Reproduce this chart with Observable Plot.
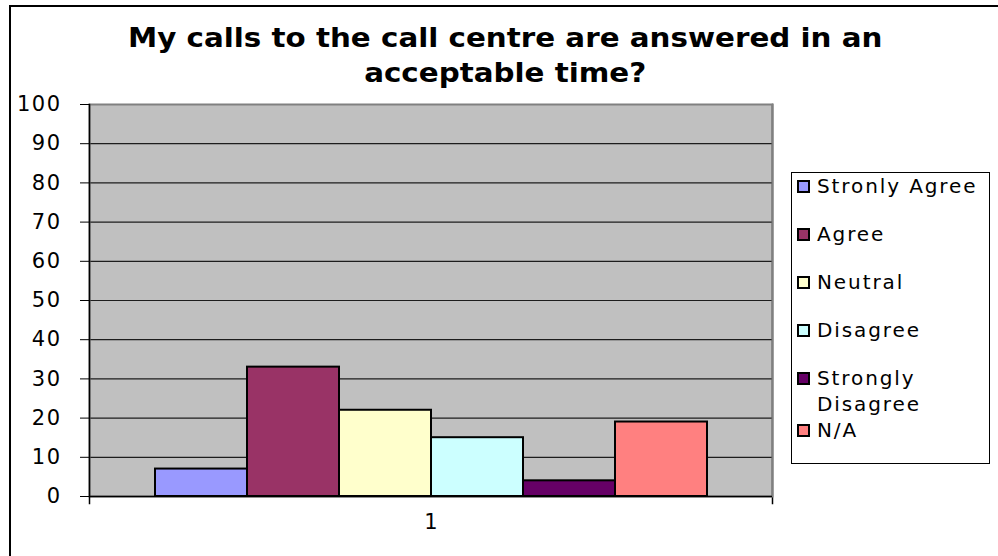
<!DOCTYPE html>
<html><head><meta charset="utf-8">
<script src="https://cdn.jsdelivr.net/npm/d3@7"></script>
<script src="https://cdn.jsdelivr.net/npm/@observablehq/plot@0.6"></script>
<style>
body{margin:0;background:#fff;}
#wrap{position:relative;width:998px;height:556px;overflow:hidden;font-family:"DejaVu Sans",sans-serif;color:#000;}
#border{position:absolute;left:9px;top:5px;width:1000px;height:560px;border-left:2px solid #000;border-top:2px solid #000;}
#title{position:absolute;left:9px;top:20px;width:994px;text-align:center;font-weight:bold;font-size:27px;line-height:35px;transform:scaleX(1.087);transform-origin:506px 0;}
#chart{position:absolute;left:0;top:0;}
#legend{position:absolute;left:791px;top:172px;width:199px;height:292px;border:1.5px solid #000;box-sizing:border-box;padding:0 2px 0 5px;font-size:20px;letter-spacing:1.9px;}
.item{display:flex;align-items:flex-start;line-height:26px;margin-bottom:22px;}
.item.wrapped{margin-bottom:0;}
.sw{flex:none;width:9px;height:9px;border:2px solid #000;margin:7px 7px 0 0;}
.lab{flex:1;}
#chart svg g[aria-label="y-axis tick label"] text{letter-spacing:1.5px;}
</style></head>
<body>
<div id="wrap">
  <div id="chart"></div>
  <div id="border"></div>
  <div id="title">My calls to the call centre are answered in an<br>acceptable time?</div>
  <div id="legend"></div>
</div>
<script>
const answers = ["Stronly Agree", "Agree", "Neutral", "Disagree", "Strongly Disagree", "N/A"];
const values = [7, 33, 22, 15, 4, 19];
const colors = ["#9999ff", "#993366", "#ffffcc", "#ccffff", "#660066", "#ff8080"];
const groups = ["1"];
const yTicks = [0, 10, 20, 30, 40, 50, 60, 70, 80, 90, 100];

const data = answers.map((a, i) => ({group: groups[0], answer: a, value: values[i]}));

const chart = Plot.plot({
  width: 998,
  height: 556,
  marginLeft: 89,
  marginRight: 226,
  marginTop: 104,
  marginBottom: 60,
  style: {fontFamily: "DejaVu Sans, sans-serif", fontSize: "21px", color: "#000", background: "transparent"},
  fx: {domain: groups, padding: 0, label: null, axis: null},
  x: {domain: answers, paddingInner: 0, paddingOuter: 0.71, axis: null},
  y: {domain: [0, 100], axis: null, label: null},
  color: {domain: answers, range: colors},
  marks: [
    Plot.frame({fill: "#c0c0c0", stroke: "none"}),
    Plot.frame({anchor: "right", stroke: "#000", strokeWidth: 1.5, insetBottom: -7}),
    Plot.gridY(yTicks, {stroke: "#000", strokeOpacity: 0.85, strokeWidth: 1.2}),
    Plot.frame({stroke: "#808080", strokeWidth: 2, fill: "none"}),
    Plot.barY(data, {fx: "group", x: "answer", y: "value", fill: "answer", stroke: "#000", strokeWidth: 2}),
    Plot.frame({anchor: "left", stroke: "#000", strokeWidth: 1.5, insetBottom: -7}),
    Plot.ruleY([0], {stroke: "#000", strokeWidth: 1.5}),
    Plot.axisY(yTicks, {tickSize: 9, tickPadding: 19, fontSize: 21, label: null, tickFormat: d => String(d)}),
    Plot.axisFx(groups, {anchor: "bottom", tickSize: 0, tickPadding: 18, fontSize: 21, label: null})
  ]
});
document.getElementById("chart").appendChild(chart);

const color = chart.scale("color");
const legend = d3.select("#legend");
answers.forEach(a => {
  const it = legend.append("div").attr("class", "item" + (a === "Strongly Disagree" ? " wrapped" : ""));
  it.append("div").attr("class", "sw").style("background", color.apply(a));
  it.append("div").attr("class", "lab").text(a);
});
</script>
</body></html>
